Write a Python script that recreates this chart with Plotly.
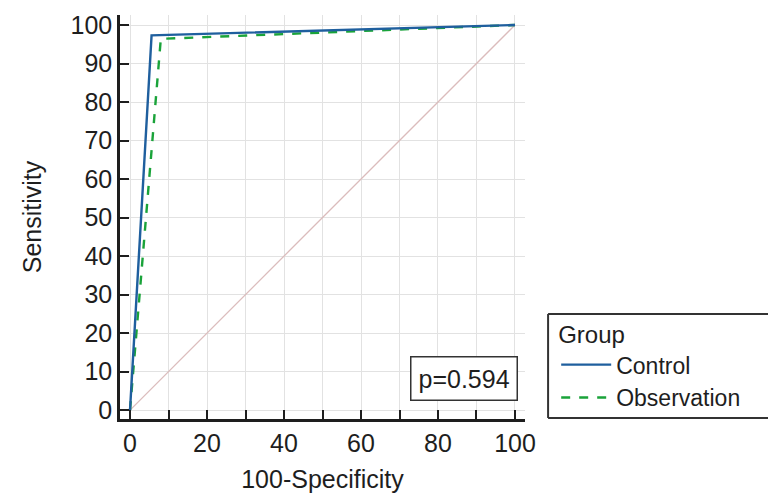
import plotly.graph_objects as go

control_x = [0, 5.6, 100]
control_y = [0, 97.3, 100]
obs_x = [0, 8.0, 100]
obs_y = [0, 96.4, 100]
diag_x = [0, 100]
diag_y = [0, 100]
x_ticks = [0, 20, 40, 60, 80, 100]
y_ticks = [0, 10, 20, 30, 40, 50, 60, 70, 80, 90, 100]
p_text = "p=0.594"

FONT = "Liberation Sans, Arial, sans-serif"
INK = "#1e1e1e"

fig = go.Figure()
fig.add_trace(go.Scatter(x=diag_x, y=diag_y, mode="lines",
                         line=dict(color="#dbbcbc", width=1.3),
                         showlegend=False, hoverinfo="skip"))
fig.add_trace(go.Scatter(x=obs_x, y=obs_y, mode="lines", name="Observation",
                         line=dict(color="#1aa33a", width=2.4, dash="dash")))
fig.add_trace(go.Scatter(x=control_x, y=control_y, mode="lines", name="Control",
                         line=dict(color="#1f5f9e", width=2.4)))

axis_common = dict(ticks="inside", ticklen=9, tickwidth=2, tickcolor=INK,
                   showline=True, linecolor=INK, linewidth=2.5,
                   showgrid=True, gridcolor="#e2e2e2", gridwidth=1,
                   zeroline=False, automargin=False,
                   tickfont=dict(size=25, color=INK, family=FONT))

# legend frame (open on the right: it runs off the picture's edge)
LX0, LX1, LY0, LY1 = 1.057, 1.70, 0.0025, 0.26
frame = dict(color="#333", width=2)

fig.update_layout(
    width=768, height=485,
    margin=dict(l=112, r=251, t=7, b=74),
    paper_bgcolor="white", plot_bgcolor="white",
    font=dict(family=FONT, size=25, color=INK),
    xaxis=dict(range=[-2.6, 102.6], tickvals=x_ticks,
               minor=dict(dtick=10, tick0=0, ticks="inside", ticklen=9, tickwidth=2,
                          tickcolor=INK, showgrid=True, gridcolor="#e2e2e2"),
               title=dict(text="100-Specificity", standoff=16,
                          font=dict(size=25, color=INK, family=FONT)),
               **axis_common),
    yaxis=dict(range=[-2.3, 102.6], tickvals=y_ticks,
               title=dict(text="Sensitivity", standoff=22,
                          font=dict(size=25, color=INK, family=FONT)),
               **axis_common),
    legend=dict(x=1.077, y=0.265, xanchor="left", yanchor="top",
                title=dict(text="Group", font=dict(size=24, color=INK, family=FONT)),
                borderwidth=0, bgcolor="rgba(0,0,0,0)",
                font=dict(size=23, color=INK, family=FONT), traceorder="reversed",
                itemwidth=50),
    shapes=[
        dict(type="rect", xref="paper", yref="paper", x0=LX0, x1=LX1, y0=LY0, y1=LY1,
             line=dict(width=0), fillcolor="white", layer="below"),
        dict(type="line", xref="paper", yref="paper", x0=LX0, x1=LX1, y0=LY1, y1=LY1, line=frame),
        dict(type="line", xref="paper", yref="paper", x0=LX0, x1=LX1, y0=LY0, y1=LY0, line=frame),
        dict(type="line", xref="paper", yref="paper", x0=LX0, x1=LX0, y0=LY0, y1=LY1, line=frame),
    ],
    annotations=[dict(x=0.983, y=0.045, xref="paper", yref="paper",
                      xanchor="right", yanchor="bottom", text=p_text,
                      showarrow=False, font=dict(size=25, color=INK, family=FONT),
                      bordercolor="#333", borderwidth=1.5, borderpad=7,
                      bgcolor="white")],
)

fig.write_html("out.html")
